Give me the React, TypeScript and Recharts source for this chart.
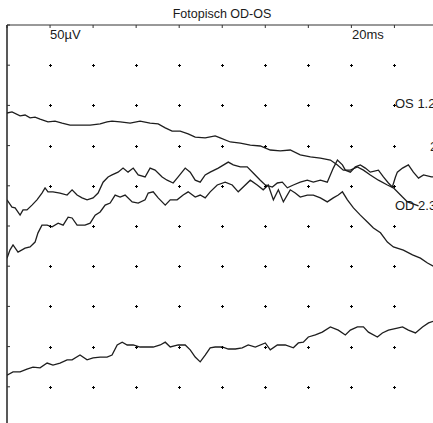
import React from 'react';
import { ComposedChart, Line, Scatter, XAxis, YAxis } from 'recharts';

// time in ms (2.5 ms per division), amplitude in µV (10 µV per division), 0 at the top frame
const xTicks = [0, 2.5, 5, 7.5, 10, 12.5, 15, 17.5, 20, 22.5, 25];
const yTicks = [0, -10, -20, -30, -40, -50, -60, -70, -80, -90];

const trace1: [number, number][] = [
  [0, -21.9], [0.29, -21.6], [0.76, -22.6], [1.05, -22.4], [1.34, -23.1], [1.63, -22.9],
  [1.92, -23.4], [2.38, -24.1], [2.79, -23.9], [3.2, -24.4], [3.66, -24.9], [4.24, -24.9],
  [4.83, -24.9], [5.41, -24.6], [5.81, -24.1], [6.1, -23.9], [6.57, -24.1], [7.15, -24.4],
  [7.73, -23.9], [8.31, -24.4], [8.78, -24.6], [9.19, -25.6], [9.59, -26.4], [10.06, -26.4],
  [10.52, -27.1], [10.93, -27.9], [11.51, -28.1], [12.09, -27.6], [12.38, -28.1], [12.97, -29.1],
  [13.55, -29.4], [14.13, -29.9], [14.71, -30.1], [15.29, -31.1], [15.87, -31.3], [16.45, -31.1],
  [17.03, -32.3], [17.62, -32.8], [18.2, -33.1], [18.78, -33.6], [19.19, -34.8], [19.53, -36.1],
  [19.94, -36.1], [20.35, -35.3], [20.7, -36.1], [21.1, -37.3], [21.57, -38.6], [22.09, -39.8],
  [22.44, -40.5], [22.97, -42.8], [23.26, -44.0], [23.9, -45.0],
];

const trace2: [number, number][] = [
  [0, -43.5], [0.29, -45.3], [0.47, -45.5], [0.76, -47.3], [0.93, -46.0], [1.16, -46.0],
  [1.45, -44.8], [1.74, -43.5], [2.03, -41.8], [2.21, -40.5], [2.38, -41.5], [2.67, -41.5],
  [3.08, -41.8], [3.49, -42.3], [3.78, -41.0], [4.07, -42.3], [4.36, -43.0], [4.65, -43.5],
  [5.0, -43.0], [5.29, -41.8], [5.58, -39.1], [5.87, -37.8], [6.1, -37.3], [6.45, -36.6],
  [6.74, -35.6], [7.03, -36.6], [7.33, -35.6], [7.62, -37.3], [8.02, -37.8], [8.31, -35.6],
  [8.6, -36.1], [9.01, -37.8], [9.3, -38.6], [9.65, -39.3], [9.94, -37.8], [10.35, -35.6],
  [10.64, -36.6], [10.93, -38.6], [11.22, -39.1], [11.51, -37.3], [11.8, -36.6], [12.27, -35.6],
  [12.85, -34.1], [13.14, -34.8], [13.55, -35.3], [13.95, -35.3], [14.3, -36.8], [14.71, -38.6],
  [15.0, -39.8], [15.41, -40.3], [15.7, -39.3], [15.99, -39.1], [16.28, -40.5], [16.63, -39.8],
  [17.03, -39.1], [17.44, -38.6], [17.79, -39.1], [18.2, -38.6], [18.6, -39.1], [18.95, -35.6],
  [19.19, -33.6], [19.48, -34.8], [19.65, -36.1], [19.94, -36.6], [20.23, -35.3], [20.52, -34.8],
  [20.81, -35.6], [21.1, -36.6], [21.57, -36.1], [21.86, -37.8], [22.15, -39.3], [22.38, -40.3],
  [22.56, -37.8], [22.67, -36.6], [22.97, -35.6], [23.31, -34.8], [23.6, -36.6], [23.9, -38.1],
  [24.19, -37.3], [24.65, -37.8], [24.83, -37.8],
];

const trace3: [number, number][] = [
  [0, -58.0], [0.17, -56.0], [0.35, -54.7], [0.64, -56.5], [1.05, -55.5], [1.34, -55.2],
  [1.63, -54.0], [1.8, -51.7], [2.03, -49.8], [2.33, -49.8], [2.62, -50.2], [2.97, -49.3],
  [3.26, -49.8], [3.55, -47.8], [3.78, -48.0], [4.07, -49.8], [4.53, -49.8], [4.83, -49.3],
  [5.12, -47.3], [5.41, -46.5], [5.7, -44.8], [5.99, -44.3], [6.28, -42.3], [6.57, -42.8],
  [6.86, -42.3], [7.27, -44.0], [7.62, -44.3], [8.02, -43.5], [8.2, -41.8], [8.49, -41.5],
  [8.78, -43.0], [9.19, -44.8], [9.48, -43.5], [9.88, -43.5], [10.23, -42.3], [10.52, -41.5],
  [10.93, -42.8], [11.22, -42.3], [11.51, -43.0], [11.8, -41.5], [12.21, -39.8], [12.67, -39.1],
  [13.08, -39.8], [13.43, -41.5], [13.72, -40.3], [14.13, -38.6], [14.53, -39.8], [14.88, -41.0],
  [15.17, -39.8], [15.47, -43.5], [15.76, -41.0], [16.05, -44.0], [16.45, -41.0], [16.74, -41.8],
  [17.03, -42.8], [17.44, -42.3], [17.79, -42.3], [18.2, -43.0], [18.6, -44.0], [18.95, -43.0],
  [19.24, -42.3], [19.48, -41.5], [19.77, -43.5], [20.12, -45.5], [20.52, -47.3], [20.93, -49.0],
  [21.28, -50.5], [21.69, -51.7], [22.09, -54.0], [22.44, -55.2], [23.02, -56.0], [23.55, -57.2],
  [24.01, -58.0], [24.42, -59.2], [24.83, -60.2],
];

const trace4: [number, number][] = [
  [0, -87.1], [0.35, -86.3], [0.76, -86.3], [1.16, -85.6], [1.51, -85.1], [1.92, -85.3],
  [2.33, -84.1], [2.67, -84.6], [3.08, -84.1], [3.49, -83.3], [3.78, -83.3], [4.24, -82.1],
  [4.65, -83.3], [5.0, -82.8], [5.41, -82.6], [5.81, -82.6], [6.1, -82.1], [6.4, -79.6],
  [6.69, -78.9], [6.98, -79.6], [7.33, -79.6], [7.73, -80.1], [8.14, -80.1], [8.49, -80.1],
  [8.9, -79.6], [9.19, -78.9], [9.48, -80.1], [9.94, -79.6], [10.35, -79.6], [10.64, -80.8],
  [10.93, -82.6], [11.22, -83.8], [11.51, -82.1], [11.8, -80.3], [12.09, -80.1], [12.5, -80.1],
  [12.85, -80.6], [13.26, -80.6], [13.66, -80.3], [14.01, -79.6], [14.42, -80.1], [15.0, -79.1],
  [15.29, -80.8], [15.7, -79.6], [16.16, -79.6], [16.63, -80.3], [16.92, -79.1], [17.21, -78.9],
  [17.5, -77.6], [17.91, -77.1], [18.31, -76.4], [18.78, -75.1], [19.24, -75.9], [19.65, -77.1],
  [19.94, -75.9], [20.35, -75.1], [20.7, -75.1], [20.99, -76.4], [21.51, -77.6], [21.8, -76.6],
  [22.15, -75.9], [22.67, -75.4], [22.97, -75.1], [23.31, -75.9], [23.72, -76.6], [24.13, -75.1],
  [24.48, -74.1], [24.83, -73.6],
];

const traces = [trace1, trace2, trace3, trace4];

const toRows = (pts: [number, number][]) => pts.map(([t, v]) => ({ t, v }));

const gridPoints = xTicks
  .slice(1)
  .flatMap((t) => yTicks.slice(1).map((v) => ({ t, v })));

const PlusMark = (props: any) => {
  const x = Math.round(props.cx) + 0.5;
  const y = Math.round(props.cy) + 0.5;
  return (
    <path
      d={`M${x - 1.5},${y}H${x + 1.5}M${x},${y - 1.5}V${y + 1.5}`}
      stroke="#000"
      strokeWidth={1}
      fill="none"
    />
  );
};

const textStyle: React.CSSProperties = {
  position: 'absolute',
  fontSize: 13,
  color: '#1a1a1a',
  whiteSpace: 'nowrap',
  lineHeight: '14px',
};

export default function App() {
  return (
    <div
      style={{
        position: 'absolute',
        left: 0,
        top: 0,
        width: 433,
        height: 423,
        overflow: 'hidden',
        background: '#fff',
        fontFamily: '"Liberation Sans", Arial, sans-serif',
      }}
    >
      {/* mirrored axes take no room, so the margins put the frame at (7, 25) */}
      <ComposedChart
        width={459}
        height={427}
        margin={{ top: 25, right: 0, bottom: 0, left: 7 }}
      >
        <XAxis
          dataKey="t"
          type="number"
          orientation="top"
          domain={[0, 26.25]}
          ticks={xTicks}
          allowDataOverflow
          height={5}
          mirror
          tickSize={3}
          tickFormatter={() => ''}
          axisLine={{ stroke: '#333' }}
          tickLine={{ stroke: '#333' }}
        />
        <YAxis
          dataKey="v"
          type="number"
          domain={[-100, 0]}
          ticks={yTicks}
          allowDataOverflow
          width={5}
          mirror
          tickSize={3}
          tickFormatter={() => ''}
          axisLine={{ stroke: '#222', strokeWidth: 1.5 }}
          tickLine={{ stroke: '#333' }}
        />
        <Scatter data={gridPoints} shape={PlusMark} isAnimationActive={false} />
        {traces.map((tr, i) => (
          <Line
            key={i}
            data={toRows(tr)}
            dataKey="v"
            type="linear"
            stroke="#1e1e1e"
            strokeWidth={1.3}
            dot={false}
            activeDot={false}
            isAnimationActive={false}
          />
        ))}
      </ComposedChart>
      <div style={{ ...textStyle, left: 0, width: 444, textAlign: 'center', top: 7, fontSize: 12.5 }}>
        Fotopisch OD-OS
      </div>
      <div style={{ ...textStyle, left: 50, top: 28 }}>50µV</div>
      <div style={{ ...textStyle, left: 352, top: 28 }}>20ms</div>
      <div style={{ ...textStyle, left: 395, top: 97 }}>OS 1.2</div>
      <div style={{ ...textStyle, left: 430, top: 140 }}>2</div>
      <div style={{ ...textStyle, left: 395, top: 199 }}>OD 2.3</div>
    </div>
  );
}
